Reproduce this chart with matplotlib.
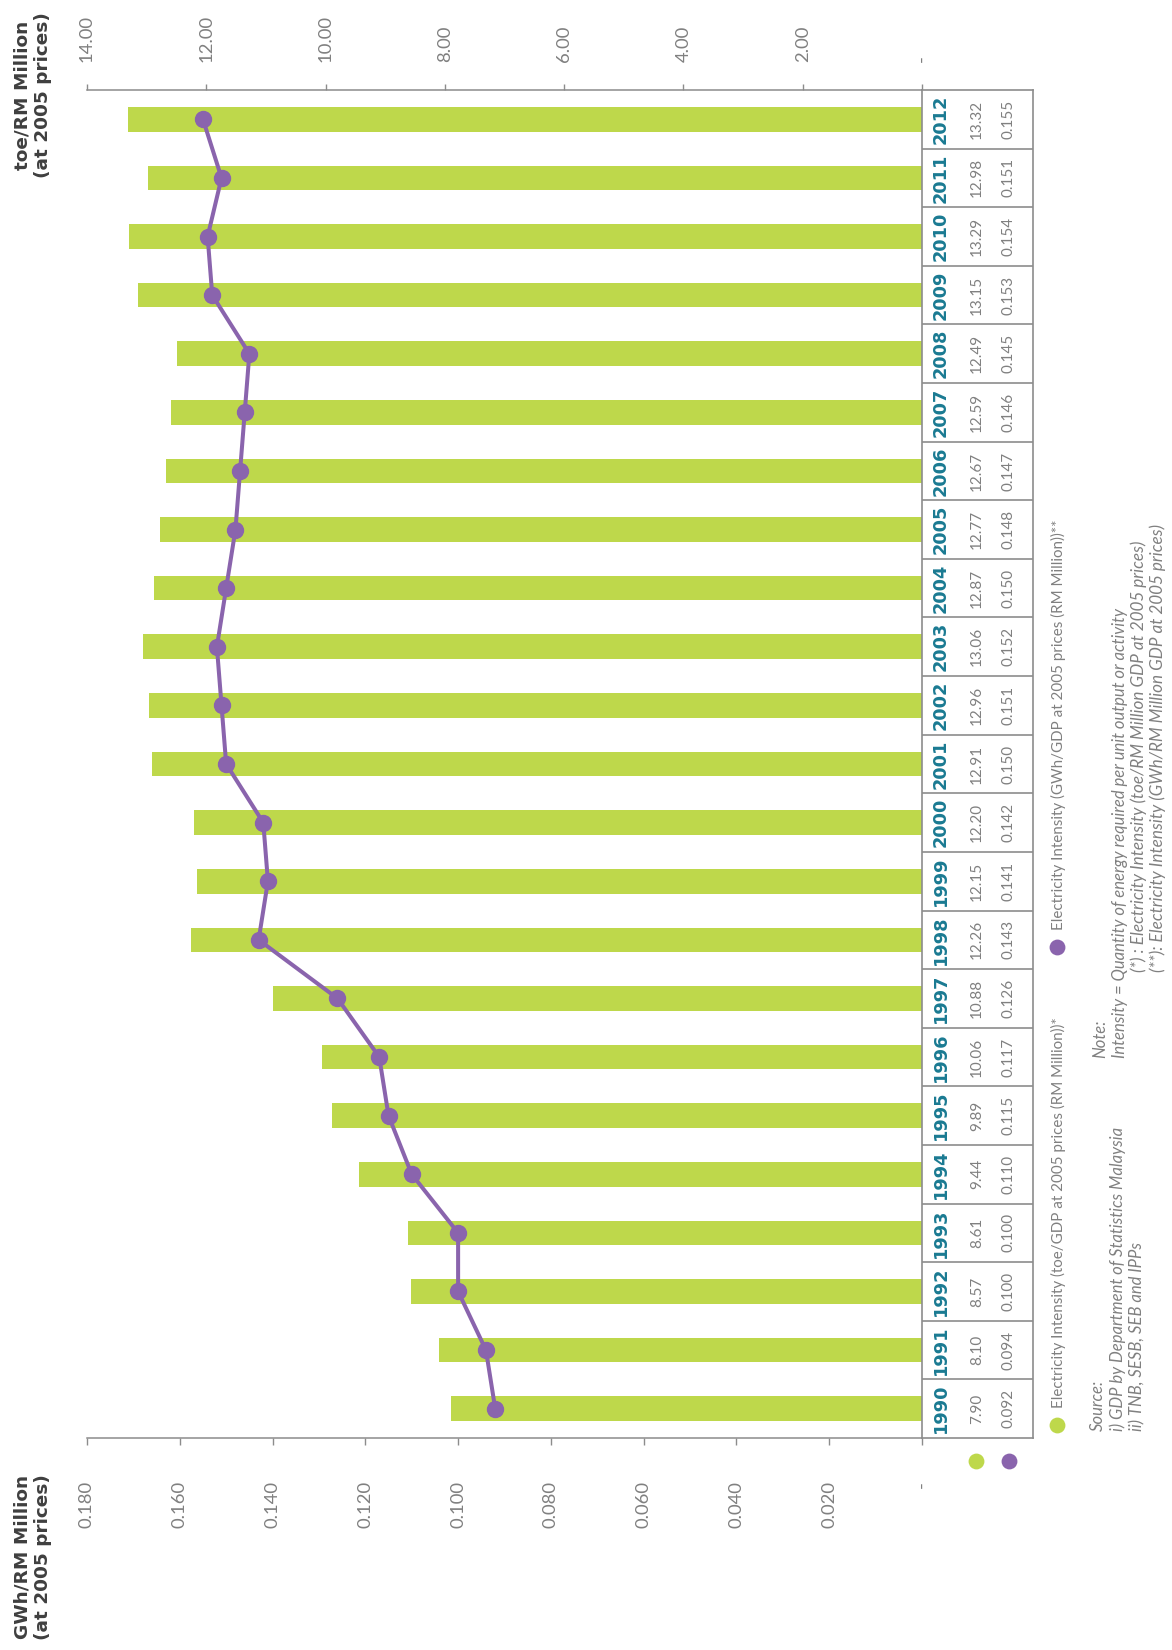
import matplotlib
matplotlib.use("Agg")
import matplotlib.pyplot as plt

plt.rcParams['font.family'] = ['Lato', 'DejaVu Sans']

# data
years = list(range(1990, 2013))
toe = [7.90, 8.10, 8.57, 8.61, 9.44, 9.89, 10.06, 10.88, 12.26, 12.15, 12.20, 12.91,
       12.96, 13.06, 12.87, 12.77, 12.67, 12.59, 12.49, 13.15, 13.29, 12.98, 13.32]
gwh = [0.092, 0.094, 0.100, 0.100, 0.110, 0.115, 0.117, 0.126, 0.143, 0.141, 0.142, 0.150,
       0.151, 0.152, 0.150, 0.148, 0.147, 0.146, 0.145, 0.153, 0.154, 0.151, 0.155]
toe_ticks = [0, 2, 4, 6, 8, 10, 12, 14]
toe_labels = ['-', '2.00', '4.00', '6.00', '8.00', '10.00', '12.00', '14.00']
gwh_ticks = [0, 0.02, 0.04, 0.06, 0.08, 0.10, 0.12, 0.14, 0.16, 0.18]
gwh_labels = ['-', '0.020', '0.040', '0.060', '0.080', '0.100', '0.120', '0.140', '0.160', '0.180']

GREEN = '#bed84b'
PURPLE = '#8a64ad'
TEAL = '#1a7a92'
TXT = '#808080'
AXC = '#8c8c8c'
FW = 'normal'

W, H = 1172, 1650
fig = plt.figure(figsize=(W / 100, H / 100), dpi=100)


def box(x0, y0, x1, y1):
    # pixel box (top-left origin) -> figure fraction
    return [x0 / W, 1 - y1 / H, (x1 - x0) / W, (y1 - y0) / H]


# main chart (drawn rotated: years run bottom -> top, values grow to the left)
ax = fig.add_axes(box(87, 90, 922, 1438))
ax.barh(years, toe, height=0.42, color=GREEN, zorder=2)
ax.set_xlim(14, 0)
ax.set_ylim(1989.5, 2012.5)
ax.set_yticks([])

ax2 = ax.twiny()
ax2.plot(gwh, years, color=PURPLE, lw=2.9, marker='o', ms=11.5, zorder=3)
ax2.set_xlim(0.18, 0)

# toe axis on top
ax.xaxis.set_ticks_position('top')
ax.set_xticks(toe_ticks)
ax.set_xticklabels(toe_labels, rotation=90, fontsize=13.3, fontweight=FW, color=TXT)
ax.tick_params(axis='x', direction='out', length=4, width=1, color=AXC, pad=16,
               top=True, bottom=False, labeltop=True, labelbottom=False)
for s in ['left', 'right', 'bottom']:
    ax.spines[s].set_visible(False)
ax.spines['top'].set_color(AXC)
ax.spines['top'].set_linewidth(1.1)

# GWh axis on bottom
ax2.xaxis.set_ticks_position('bottom')
ax2.set_xticks(gwh_ticks)
ax2.set_xticklabels(gwh_labels, rotation=90, fontsize=13.3, fontweight=FW, color=TXT)
ax2.tick_params(axis='x', direction='out', length=5, width=1, color=AXC, pad=26,
                top=False, bottom=True, labeltop=False, labelbottom=True)
for s in ['left', 'right', 'top']:
    ax2.spines[s].set_visible(False)
ax2.spines['bottom'].set_visible(True)
ax2.spines['bottom'].set_color(AXC)
ax2.spines['bottom'].set_linewidth(1.1)

# data table to the right
axt = fig.add_axes(box(922, 90, 1033, 1438))
axt.set_xlim(0, 1)
axt.set_ylim(1989.5, 2012.5)
axt.set_xticks([])
axt.set_yticks([])
for s in axt.spines.values():
    s.set_color(AXC)
    s.set_linewidth(1.2)
for y in years[:-1]:
    axt.axhline(y + 0.5, color=AXC, lw=1.2)
for y, a, b in zip(years, toe, gwh):
    axt.text(0.17, y, str(y), rotation=90, ha='center', va='center', fontsize=12.8,
             fontweight='bold', family='DejaVu Sans', color=TEAL)
    axt.text(0.495, y, f'{a:.2f}', rotation=90, ha='center', va='center', fontsize=11,
             fontweight=FW, color=TXT)
    axt.text(0.775, y, f'{b:.3f}', rotation=90, ha='center', va='center', fontsize=11,
             fontweight=FW, color=TXT)

# overlay in pixel coordinates for titles, legend and notes
ov = fig.add_axes([0, 0, 1, 1])
ov.set_xlim(0, W)
ov.set_ylim(H, 0)
ov.axis('off')

ov.text(33, 95, 'toe/RM Million\n(at 2005 prices)', rotation=90, rotation_mode='anchor',
        ha='center', va='center', multialignment='center', fontsize=13.3,
        fontweight='bold', family='DejaVu Sans', color='#3f3f3f', linespacing=1.15)
ov.text(33, 1557, 'GWh/RM Million\n(at 2005 prices)', rotation=90, rotation_mode='anchor',
        ha='center', va='center', multialignment='center', fontsize=13.3,
        fontweight='bold', family='DejaVu Sans', color='#3f3f3f', linespacing=1.15)

# row keys under the table
ov.scatter([976], [1461], s=130, color=GREEN, lw=0)
ov.scatter([1009], [1461], s=130, color=PURPLE, lw=0)

# legend
ov.scatter([1057], [1425], s=130, color=GREEN, lw=0)
ov.text(1058, 1408, 'Electricity Intensity (toe/GDP at 2005 prices (RM Million))*',
        rotation=90, rotation_mode='anchor', ha='left', va='center',
        fontsize=10.9, fontweight=FW, color=TXT)
ov.scatter([1057], [947], s=130, color=PURPLE, lw=0)
ov.text(1058, 930, 'Electricity Intensity (GWh/GDP at 2005 prices (RM Million))**',
        rotation=90, rotation_mode='anchor', ha='left', va='center',
        fontsize=10.9, fontweight=FW, color=TXT)

# source and notes
src = ['Source:', 'i) GDP by Department of Statistics Malaysia', 'ii) TNB, SESB, SEB and IPPs']
for i, line in enumerate(src):
    ov.text(1098 + i * 19.5, 1431, line, rotation=90, rotation_mode='anchor', ha='left',
            va='center', fontsize=12, fontweight=FW, style='italic', color=TXT)

ov.text(1100, 1058, 'Note:', rotation=90, rotation_mode='anchor', ha='left', va='center',
        fontsize=12, fontweight=FW, style='italic', color=TXT)
ov.text(1120, 1058, 'Intensity = Quantity of energy required per unit output or activity',
        rotation=90, rotation_mode='anchor', ha='left', va='center',
        fontsize=12, fontweight=FW, style='italic', color=TXT)
ov.text(1139, 972, '(*) : Electricity Intensity (toe/RM Million GDP at 2005 prices)',
        rotation=90, rotation_mode='anchor', ha='left', va='center',
        fontsize=12.3, fontweight=FW, style='italic', color=TXT)
ov.text(1158, 972, '(**): Electricity Intensity (GWh/RM Million GDP at 2005 prices)',
        rotation=90, rotation_mode='anchor', ha='left', va='center',
        fontsize=12.3, fontweight=FW, style='italic', color=TXT)

fig.savefig('out.png', dpi=100)
